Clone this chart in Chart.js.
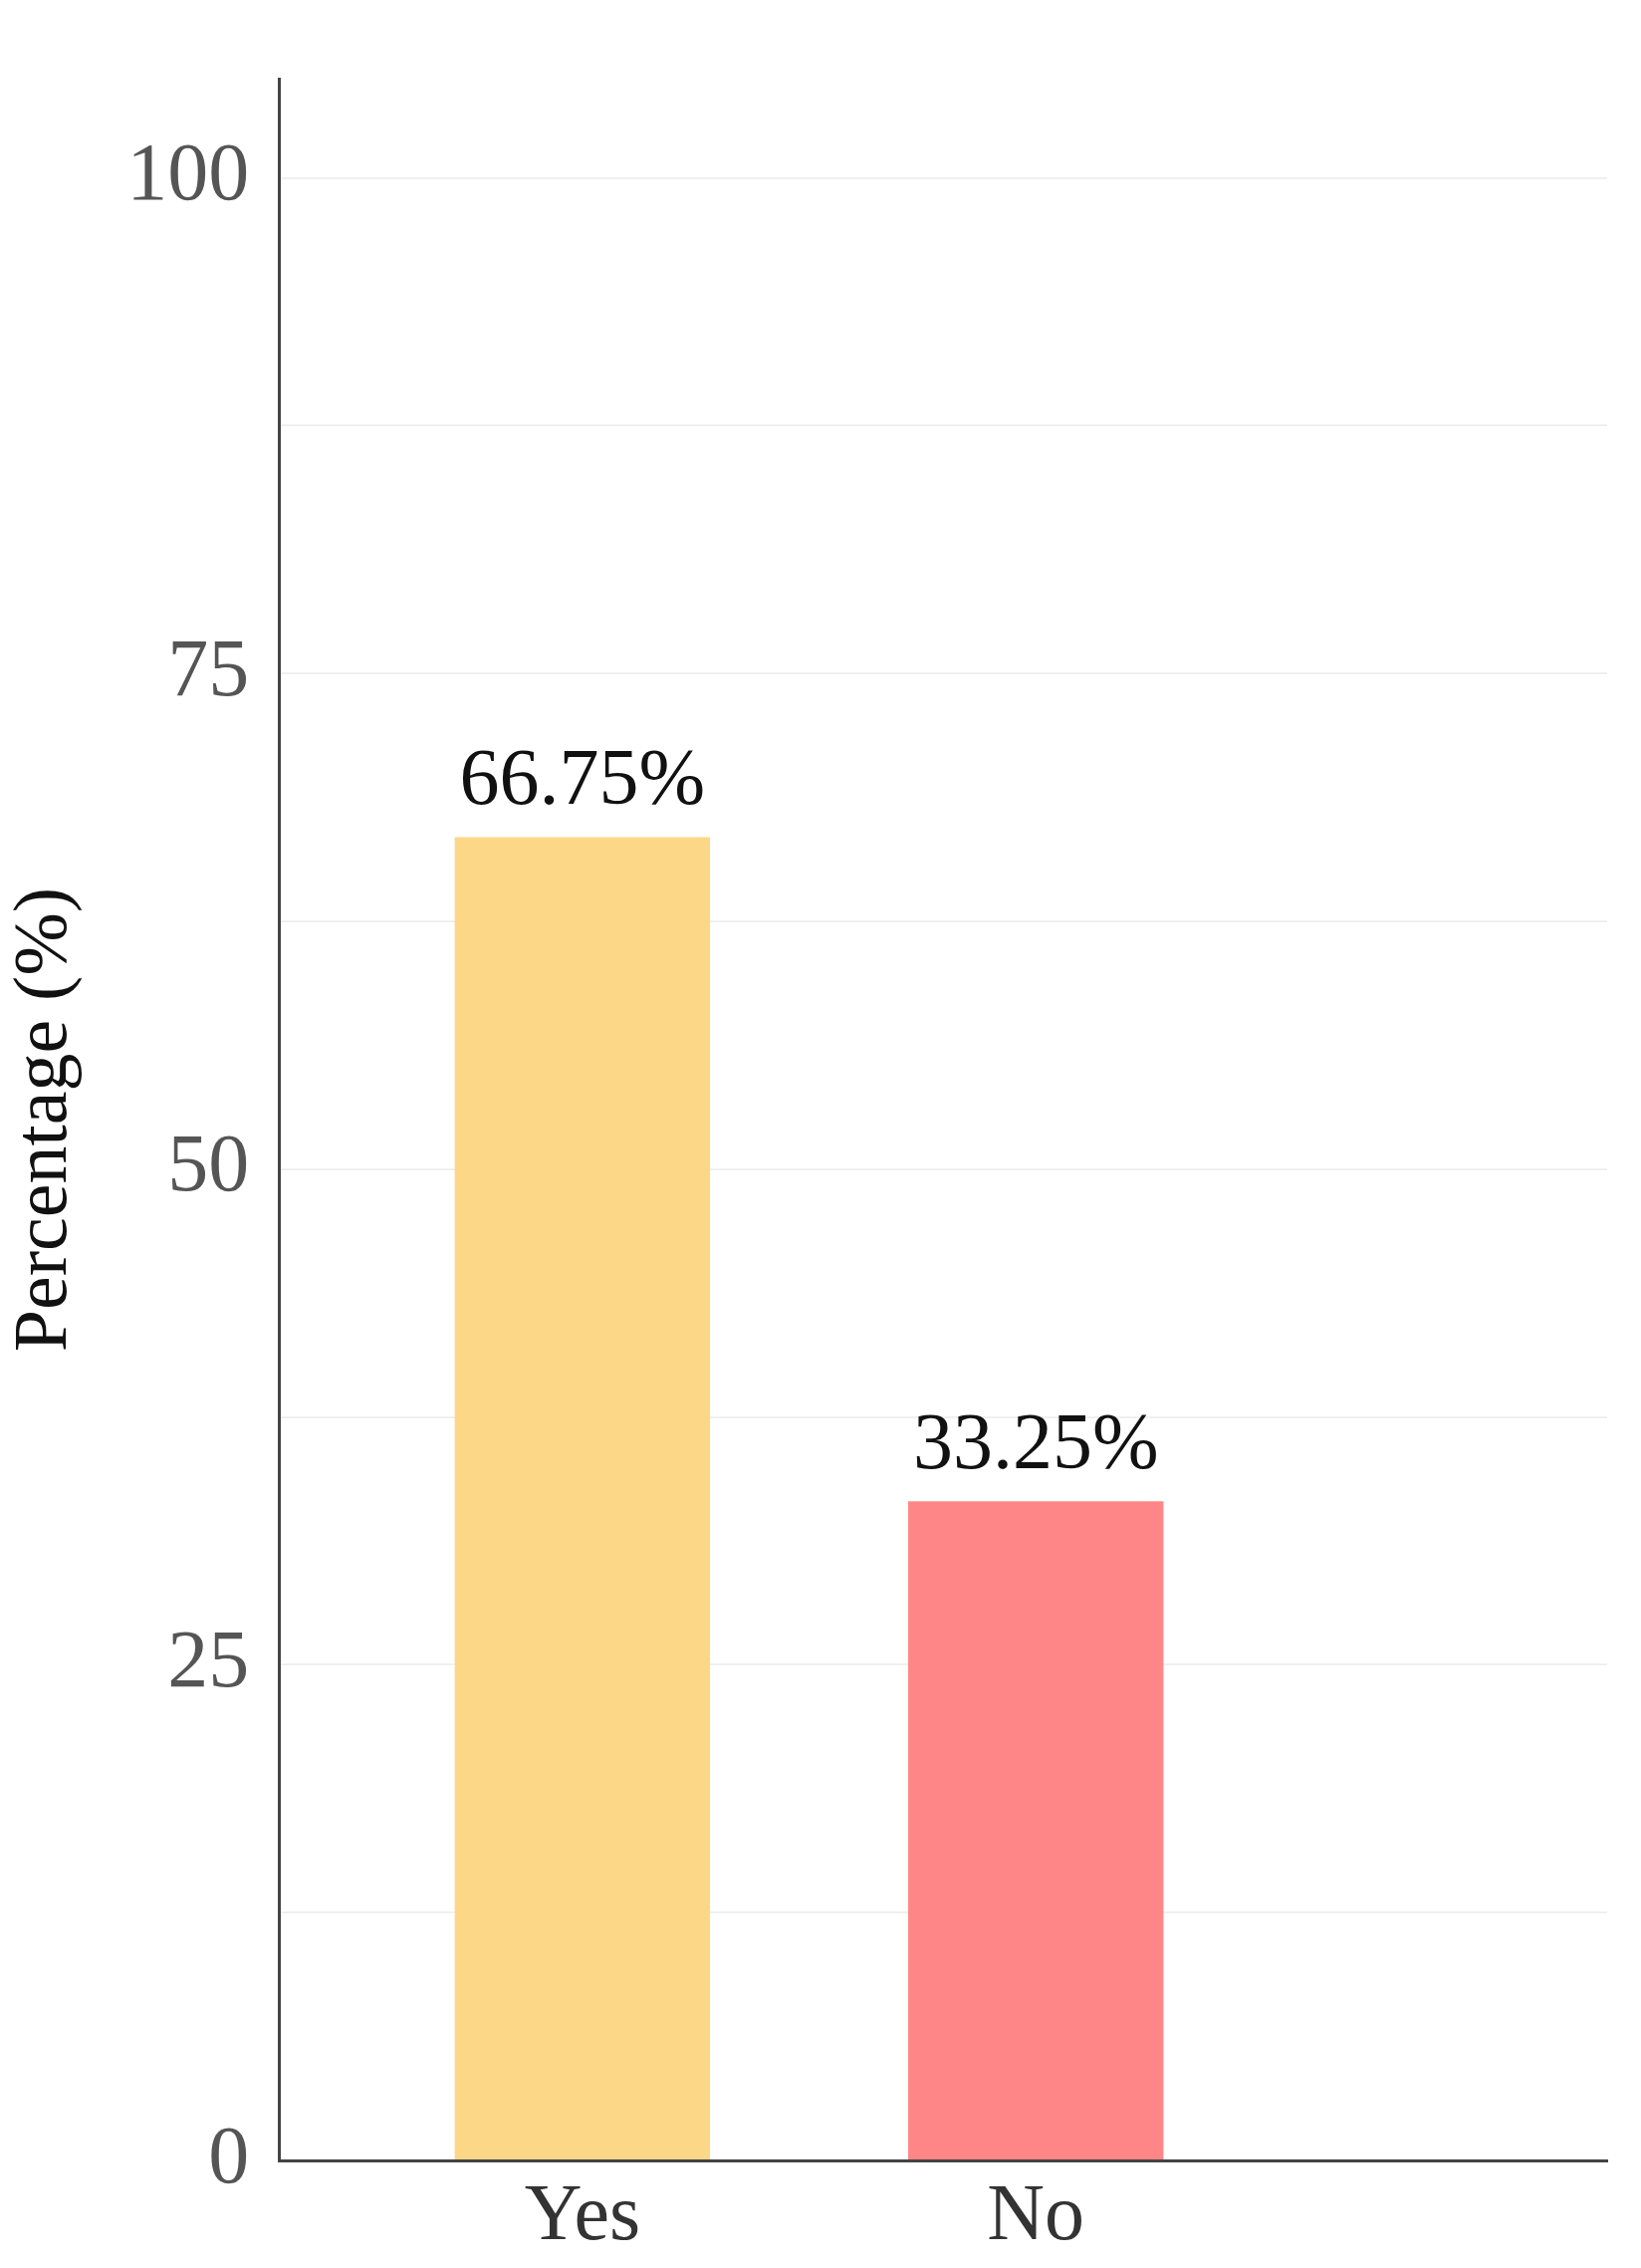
<!DOCTYPE html>
<html><head><script src="https://cdn.jsdelivr.net/npm/chart.js@4"></script>
<style>html,body{margin:0;padding:0;background:#fff}#w{width:1648px;height:2277px}</style></head>
<body><div id="w"><canvas id="c"></canvas></div>
<script>
const categories = ['Yes','No'];
const values = [66.75, 33.25];
const labels = ['66.75%','33.25%'];
const colors = ['#FCD788','#FF8686'];
const yTickLabels = [0,25,50,75,100];

const dataLabelPlugin = {
  id:'dl',
  afterDatasetsDraw(chart){
    const ctx=chart.ctx, meta=chart.getDatasetMeta(0);
    ctx.save();
    ctx.font='80px "Liberation Serif"';
    ctx.fillStyle='#111';ctx.textAlign='center';ctx.textBaseline='bottom';
    meta.data.forEach((b,i)=>ctx.fillText(labels[i], b.x, b.y-14));
    ctx.restore();
  }
};
new Chart(document.getElementById('c'),{
  type:'bar',
  data:{datasets:[{data:values.map((v,i)=>({x:i,y:v})),backgroundColor:colors,barPercentage:0.563,categoryPercentage:1}]},
  options:{
    responsive:true,maintainAspectRatio:false,animation:false,
    layout:{padding:{top:0,right:34,left:0,bottom:0}},
    plugins:{legend:{display:false},tooltip:{enabled:false}},
    scales:{
      x:{type:'linear',min:-0.669,max:2.26,offset:false,
        afterBuildTicks(s){s.ticks=[{value:0},{value:1}];},
        ticks:{callback:v=>categories[v]??'',color:'#333',font:{family:'Liberation Serif',size:80},padding:2,autoSkip:false,maxRotation:0},
        grid:{display:false},border:{color:'#444',width:3}},
      y:{min:0,max:105,
        afterBuildTicks(s){const t=[];for(let v=0;v<=100;v+=12.5)t.push({value:v});s.ticks=t;},
        ticks:{callback:v=>yTickLabels.includes(v)?String(v):'',color:'#555',font:{family:'Liberation Serif',size:82},padding:30,autoSkip:false},
        grid:{color:'#f0f0f0',lineWidth:2,drawTicks:false},border:{color:'#444',width:3},
        title:{display:true,text:'Percentage (%)',color:'#111',font:{family:'Liberation Serif',size:76},padding:{top:0,bottom:6}}}
    }
  },
  plugins:[dataLabelPlugin]
});
</script></body></html>
